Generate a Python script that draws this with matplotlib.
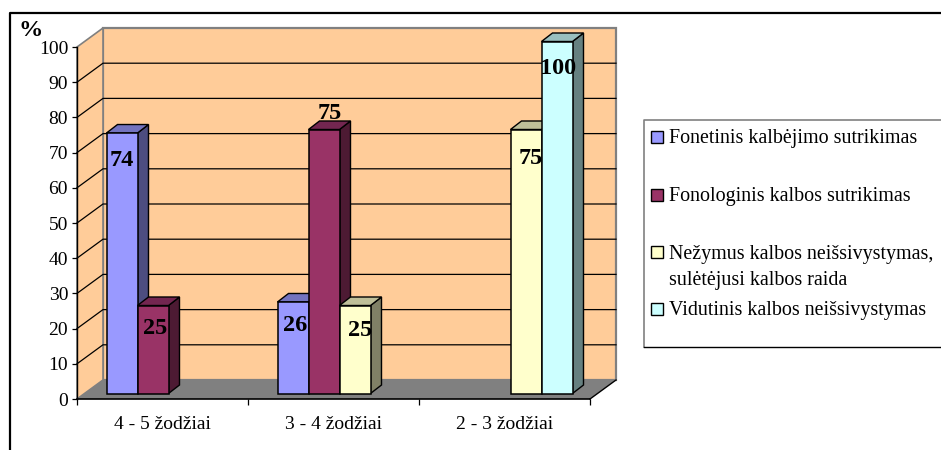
import matplotlib
matplotlib.use('Agg')
import matplotlib.pyplot as plt

plt.rcParams['font.family'] = ['Liberation Serif', 'DejaVu Serif']

categories = ['4 - 5 žodžiai', '3 - 4 žodžiai', '2 - 3 žodžiai']
fonetinis = [74, 26, None]
fonologinis = [25, 75, None]
nezymus = [None, 25, 75]
vidutinis = [None, None, 100]
y_ticks = list(range(0, 101, 10))

series_names = ['Fonetinis kalbėjimo sutrikimas',
                'Fonologinis kalbos sutrikimas',
                'Nežymus kalbos neišsivystymas,\nsulėtėjusi kalbos raida',
                'Vidutinis kalbos neišsivystymas']
series_values = [fonetinis, fonologinis, nezymus, vidutinis]
front_colors = ['#9999FF', '#993366', '#FFFFCC', '#CCFFFF']
top_colors = ['#7373BF', '#732650', '#BFBF99', '#99BFBF']
side_colors = ['#4D4D80', '#4D1A33', '#808066', '#668080']

W, H = 941, 450
# front plane of the fake 3D box, in pixels
LEFT, RIGHT, TOP, BOTTOM = 77, 590, 47, 399
px_x = (RIGHT - LEFT) / 3
px_y = (BOTTOM - TOP) / 100


def dx(p):
    return p / px_x


def dy(p):
    return p / px_y


fig = plt.figure(figsize=(W / 100, H / 100), dpi=100)

# background layer in pixels: outer frame and legend
bg = fig.add_axes([0, 0, 1, 1], zorder=0)
bg.set_xlim(0, W)
bg.set_ylim(H, 0)
bg.axis('off')
bg.plot([10, 10, W], [H, 13, 13], color='black', lw=1.6, clip_on=False)
bg.plot([W, 644, 644], [120, 120, 347], color='#808080', lw=1.2)
bg.plot([644, W], [347, 347], color='black', lw=1.0)

legend_y = [137, 195, 252, 309]
for name, color, ly in zip(series_names, front_colors, legend_y):
    bg.add_patch(plt.Rectangle((651, ly - 6), 12, 12, facecolor=color,
                               edgecolor='black', lw=1.0))
    bg.text(669, ly - 7.5, name, fontsize=14.4, va='top', ha='left',
            color='black', linespacing=1.5)
bg.text(31, 31, '%', fontsize=17.5, fontweight='bold', ha='center', va='center')

ax = fig.add_axes([LEFT / W, 1 - BOTTOM / H, (RIGHT - LEFT) / W, (BOTTOM - TOP) / H],
                  zorder=1)
ax.patch.set_visible(False)
ax.set_xlim(-0.5, 2.5)
ax.set_ylim(0, 100)

# walls and floor
DEPTH_X, DEPTH_Y = dx(26), dy(19)
x0, x1 = -0.5, 2.5
ax.fill([x0 + DEPTH_X, x1 + DEPTH_X, x1 + DEPTH_X, x0 + DEPTH_X],
        [DEPTH_Y, DEPTH_Y, 100 + DEPTH_Y, 100 + DEPTH_Y],
        facecolor='#FFCC99', edgecolor='#808080', lw=1.6, clip_on=False, zorder=1)
ax.fill([x0, x0 + DEPTH_X, x0 + DEPTH_X, x0],
        [0, DEPTH_Y, 100 + DEPTH_Y, 100],
        facecolor='#FFCC99', edgecolor='#808080', lw=1.2, clip_on=False, zorder=1)
ax.fill([x0, x1, x1 + DEPTH_X, x0 + DEPTH_X],
        [0, 0, DEPTH_Y, DEPTH_Y],
        facecolor='#808080', edgecolor='none', clip_on=False, zorder=1)
ax.plot([x1, x1 + DEPTH_X], [0, DEPTH_Y], color='black', lw=1, clip_on=False, zorder=2)

for t in y_ticks[1:-1]:
    ax.plot([x0, x0 + DEPTH_X, x1 + DEPTH_X], [t, t + DEPTH_Y, t + DEPTH_Y],
            color='black', lw=0.9, clip_on=False, zorder=2)

# bars
BAR_W = 31 / px_x
SHIFT_X, SHIFT_Y = dx(6), dy(5.5)
BAR_DX, BAR_DY = dx(11), dy(8.5)
label_offsets = {(0, 0): (0, -27), (1, 0): (2, -23), (0, 1): (2, -24),
                 (1, 1): (6, 16), (2, 1): (5, -25), (2, 2): (5, -29),
                 (3, 2): (1, -27)}

for c in range(len(categories)):
    for s, values in enumerate(series_values):
        v = values[c]
        if v is None:
            continue
        left = c + (s - 2) * BAR_W + SHIFT_X
        right = left + BAR_W
        top = v + SHIFT_Y
        z = 3 + c * 4 + s
        ax.fill([right, right + BAR_DX, right + BAR_DX, right],
                [SHIFT_Y, SHIFT_Y + BAR_DY, top + BAR_DY, top],
                facecolor=side_colors[s], edgecolor='black', lw=1, clip_on=False, zorder=z)
        ax.fill([left, left + BAR_DX, right + BAR_DX, right],
                [top, top + BAR_DY, top + BAR_DY, top],
                facecolor=top_colors[s], edgecolor='black', lw=1, clip_on=False, zorder=z)
        ax.bar(left, v, width=BAR_W, bottom=SHIFT_Y, align='edge', color=front_colors[s],
               edgecolor='black', lw=1.1, clip_on=False, zorder=z)

for c in range(len(categories)):
    for s, values in enumerate(series_values):
        v = values[c]
        if v is None:
            continue
        ox, oy = label_offsets[(s, c)]
        center = c + (s - 1.5) * BAR_W + SHIFT_X
        ax.annotate(str(v), (center, v + SHIFT_Y), xytext=(ox * 0.72, oy * 0.72),
                    textcoords='offset points', ha='center', va='center',
                    fontsize=17.5, fontweight='bold', color='black', zorder=50,
                    annotation_clip=False)

# axes
for side in ['top', 'right']:
    ax.spines[side].set_visible(False)
ax.spines['left'].set_linewidth(1)
ax.spines['bottom'].set_linewidth(1.2)
ax.spines['left'].set_zorder(2)
ax.spines['bottom'].set_zorder(2)
ax.set_yticks(y_ticks)
ax.set_yticklabels([str(t) for t in y_ticks], fontsize=14)
ax.tick_params(axis='y', length=3.6, width=0.9, pad=2.8)
ax.set_xticks(range(3))
ax.set_xticklabels(categories, fontsize=14)
ax.set_xticks([-0.5, 0.5, 1.5, 2.5], minor=True)
ax.tick_params(axis='x', which='major', length=0, pad=12.5)
ax.tick_params(axis='x', which='minor', length=4, width=0.9)

fig.savefig('out.png', dpi=100)
